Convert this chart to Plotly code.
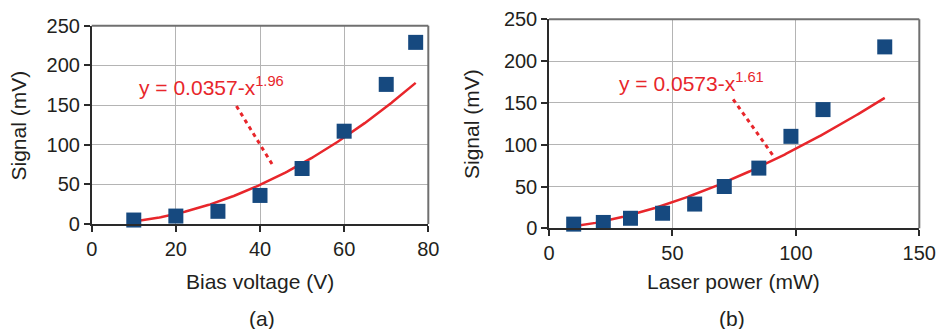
import numpy as np
import plotly.graph_objects as go

# Panel (a): signal vs. bias voltage
bias_v = [10, 20, 30, 40, 50, 60, 70, 77]
signal_a = [5, 10, 16, 36, 70, 117, 176, 229]
fit_a = (0.0357, 1.96)  # y = c * x^p

# Panel (b): signal vs. laser power
power_mw = [10, 22, 33, 46, 59, 71, 85, 98, 111, 136]
signal_b = [5, 7, 12, 18, 29, 50, 72, 110, 142, 217]
fit_b = (0.0573, 1.61)

W, H = 938, 329
FONT = "Liberation Sans, Arial, Helvetica, sans-serif"
TXT = "#231f20"
RED = "#e8262b"
BLUE = "#16497f"
GRID = "#b4b4b4"


def px_x(p):
    return p / W


def px_y(p):
    return (H - p) / H


fig = go.Figure()


def add_panel(n, xs, ys, fit):
    xa = "x" if n == 1 else "x%d" % n
    ya = "y" if n == 1 else "y%d" % n
    c, p = fit
    xf = np.linspace(min(xs), max(xs), 200)
    fig.add_trace(go.Scatter(
        x=xf, y=c * xf ** p, mode="lines",
        line=dict(color=RED, width=2.5), xaxis=xa, yaxis=ya,
        showlegend=False, hoverinfo="skip"))
    fig.add_trace(go.Scatter(
        x=xs, y=ys, mode="markers",
        marker=dict(symbol="square", size=15, color=BLUE),
        xaxis=xa, yaxis=ya, showlegend=False, cliponaxis=False))


add_panel(1, bias_v, signal_a, fit_a)
add_panel(2, power_mw, signal_b, fit_b)

axis_common = dict(
    showgrid=True, gridcolor=GRID, gridwidth=1,
    zeroline=False, showline=True, linecolor="#2a2a2a", linewidth=1.5,
    ticks="outside", ticklen=6, tickcolor="#2a2a2a", tickwidth=1.5,
    tickfont=dict(family=FONT, size=20, color=TXT),
    automargin=False, fixedrange=True,
)

fig.update_layout(
    width=W, height=H,
    margin=dict(l=0, r=0, t=0, b=0),
    paper_bgcolor="white", plot_bgcolor="white",
    font=dict(family=FONT, color=TXT),
    xaxis=dict(domain=[px_x(91.7), px_x(428.3)], range=[0, 80], dtick=20,
               anchor="y", **axis_common),
    yaxis=dict(domain=[px_y(224), px_y(25.7)], range=[0, 250], dtick=50,
               anchor="x", **axis_common),
    xaxis2=dict(domain=[px_x(549), px_x(919.3)], range=[0, 150], dtick=50,
                anchor="y2", **axis_common),
    yaxis2=dict(domain=[px_y(228.3), px_y(19.3)], range=[0, 250], dtick=50,
                anchor="x2", **axis_common),
)

# Grey frame on the top and right sides of each plot area
for xr, yr in (("x domain", "y domain"), ("x2 domain", "y2 domain")):
    fig.add_shape(type="line", xref=xr, yref=yr, x0=0, x1=1, y0=1, y1=1,
                  line=dict(color="#707070", width=2))
    fig.add_shape(type="line", xref=xr, yref=yr, x0=1, x1=1, y0=0, y1=1,
                  line=dict(color="#707070", width=2))

# Dotted leader lines from the equations to the fitted curves
leaders = [("x", "y", (34.4, 148.7), (43.1, 73.5)),
           ("x2", "y2", (74.6, 154.3), (90.6, 87.7))]
for xr, yr, (x0, y0), (x1, y1) in leaders:
    fig.add_shape(type="line", xref=xr, yref=yr, x0=x0, y0=y0, x1=x1, y1=y1,
                  line=dict(color=RED, width=3, dash="4px,4px"))

# Fit equations
for xr, yr, x, y, (c, p) in (("x", "y", 10.8, 174, fit_a),
                             ("x2", "y2", 27.7, 175, fit_b)):
    fig.add_annotation(
        xref=xr, yref=yr, x=x, y=y, xanchor="left", yanchor="middle",
        text="y = %s-x<sup>%s</sup>" % (("%.4f" % c), ("%.2f" % p)),
        showarrow=False, font=dict(family=FONT, size=21, color=RED))

# Axis titles and panel labels
labels = [
    ("Signal (mV)", 18, 125.5, -90),
    ("Bias voltage (V)", 260, 281, 0),
    ("(a)", 261.7, 318, 0),
    ("Signal (mV)", 471, 124, -90),
    ("Laser power (mW)", 733.8, 281.5, 0),
    ("(b)", 732.3, 318, 0),
]
for text, cx, cy, ang in labels:
    fig.add_annotation(
        xref="paper", yref="paper", x=px_x(cx), y=px_y(cy),
        xanchor="center", yanchor="middle", text=text, textangle=ang,
        showarrow=False, font=dict(family=FONT, size=21, color=TXT))

fig.write_html("out.html")
